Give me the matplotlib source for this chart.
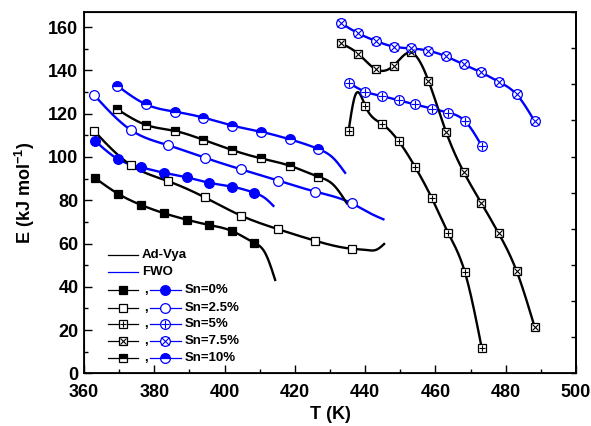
import numpy as np
import matplotlib
matplotlib.use("Agg")
import matplotlib.pyplot as plt
from matplotlib.lines import Line2D

# ---- data (T in K, E in kJ/mol) ----
# marker points, Ad-Vya (black) and FWO (blue)
T_0 = [363.2, 369.8, 376.3, 382.8, 389.3, 395.6, 402.1, 408.4]
E_0_adv = [90.2, 82.9, 77.8, 74.0, 71.0, 68.6, 65.8, 60.4]
E_0_fwo = [107.4, 98.9, 95.2, 92.7, 90.6, 88.1, 86.3, 83.5]

T_25 = [362.9, 373.3, 383.8, 394.3, 404.7, 415.3, 425.8, 436.2]
E_25_adv = [112.0, 96.3, 88.9, 81.4, 72.9, 66.6, 61.3, 57.6]
E_25_fwo = [128.6, 112.5, 105.5, 99.7, 94.3, 89.1, 84.0, 78.6]

T_5 = [435.3, 440.0, 444.7, 449.5, 454.2, 459.0, 463.7, 468.4, 473.2]
E_5_adv = [112.2, 123.7, 115.4, 107.4, 95.5, 80.9, 64.7, 46.7, 11.6]
E_5_fwo = [134.3, 130.2, 128.2, 126.2, 124.3, 122.4, 120.5, 116.6, 105.1]

T_75 = [433.1, 438.1, 443.1, 448.1, 453.0, 458.0, 463.0, 468.0, 473.0, 478.0, 483.1, 488.2]
E_75_adv = [152.5, 147.6, 140.5, 142.2, 148.3, 135.3, 111.7, 93.2, 78.9, 64.7, 47.3, 21.6]
E_75_fwo = [161.9, 157.1, 153.6, 151.0, 150.2, 149.1, 146.5, 142.8, 139.1, 134.8, 128.9, 116.6]

T_10 = [369.5, 377.7, 386.0, 394.0, 402.2, 410.3, 418.5, 426.7]
E_10_adv = [122.0, 114.8, 112.0, 107.9, 103.2, 99.4, 96.0, 90.9]
E_10_fwo = [132.9, 124.3, 120.9, 118.2, 114.5, 111.7, 108.2, 103.7]

# extra curve points without markers (curve continues past last marker)
tail_0_adv = ([411.6, 414.4], [55.5, 43.2])
tail_0_fwo = ([411.6, 413.9], [80.9, 77.4])
tail_25_adv = ([440.5, 443.3, 445.4], [57.0, 57.2, 59.8])
tail_25_fwo = ([441.4, 445.2], [74.0, 71.2])
tail_5_adv = ([437.2], [128.6])
tail_5_fwo = ([], [])
tail_75_adv = ([], [])
tail_75_fwo = ([], [])
tail_10_adv = ([431.0, 434.8], [87.1, 78.6])
tail_10_fwo = ([431.0, 434.3], [99.4, 92.7])

labels = ["Sn=0%", "Sn=2.5%", "Sn=5%", "Sn=7.5%", "Sn=10%"]

plt.rcParams['font.family'] = ['Liberation Sans', 'DejaVu Sans']
plt.rcParams['font.weight'] = 'bold'
plt.rcParams['mathtext.fontset'] = 'custom'
plt.rcParams['mathtext.rm'] = 'Liberation Sans:bold'
plt.rcParams['mathtext.bf'] = 'Liberation Sans:bold'
plt.rcParams['mathtext.default'] = 'bf'


def spline(x, y, n=300):
    """natural cubic spline through (x, y)"""
    x = np.asarray(x, float)
    y = np.asarray(y, float)
    k = len(x)
    h = np.diff(x)
    A = np.zeros((k, k))
    b = np.zeros(k)
    A[0, 0] = A[-1, -1] = 1.0
    for i in range(1, k - 1):
        A[i, i - 1] = h[i - 1]
        A[i, i] = 2 * (h[i - 1] + h[i])
        A[i, i + 1] = h[i]
        b[i] = 6 * ((y[i + 1] - y[i]) / h[i] - (y[i] - y[i - 1]) / h[i - 1])
    M = np.linalg.solve(A, b)
    xs = np.linspace(x[0], x[-1], n)
    j = np.clip(np.searchsorted(x, xs) - 1, 0, k - 2)
    t0 = x[j + 1] - xs
    t1 = xs - x[j]
    hj = h[j]
    ys = (M[j] * t0 ** 3 / (6 * hj) + M[j + 1] * t1 ** 3 / (6 * hj)
          + (y[j] / hj - M[j] * hj / 6) * t0 + (y[j + 1] / hj - M[j + 1] * hj / 6) * t1)
    return xs, ys


def curve(T, E, tail):
    x = np.concatenate([T, tail[0]])
    y = np.concatenate([E, tail[1]])
    o = np.argsort(x)
    return spline(x[o], y[o])


BLUE = '#0000ff'
sq = dict(marker='s', markersize=6, markeredgewidth=0.9)
ci = dict(marker='o', markersize=7, markeredgewidth=0.9)

# per series: (black marker style, blue marker style, overlay marker)
styles = [
    (dict(mfc='black', mec='black'), dict(mfc=BLUE, mec=BLUE), None),
    (dict(mfc='white', mec='black'), dict(mfc='white', mec=BLUE), None),
    (dict(mfc='white', mec='black'), dict(mfc='white', mec=BLUE), '+'),
    (dict(mfc='white', mec='black'), dict(mfc='white', mec=BLUE), 'x'),
    (dict(mfc='black', mec='black', fillstyle='top', markerfacecoloralt='white'),
     dict(mfc=BLUE, mec=BLUE, fillstyle='top', markerfacecoloralt='white'), None),
]

series = [
    (T_0, E_0_adv, E_0_fwo, tail_0_adv, tail_0_fwo),
    (T_25, E_25_adv, E_25_fwo, tail_25_adv, tail_25_fwo),
    (T_5, E_5_adv, E_5_fwo, tail_5_adv, tail_5_fwo),
    (T_75, E_75_adv, E_75_fwo, tail_75_adv, tail_75_fwo),
    (T_10, E_10_adv, E_10_fwo, tail_10_adv, tail_10_fwo),
]

fig = plt.figure(figsize=(5.91, 4.26), dpi=100)
ax = fig.add_axes([0.1421, 0.1235, 0.8325, 0.8483])

for (T, Ea, Ef, ta, tf), (bs, us, ov) in zip(series, styles):
    xs, ys = curve(T, Ea, ta)
    ax.plot(xs, ys, color='black', lw=1.7, zorder=2)
    xs, ys = curve(T, Ef, tf)
    ax.plot(xs, ys, color=BLUE, lw=1.7, zorder=2)
    ax.plot(T, Ea, ls='none', zorder=3, **sq, **bs)
    ax.plot(T, Ef, ls='none', zorder=3, **ci, **us)
    if ov:
        ax.plot(T, Ea, ls='none', marker=ov, ms=5, mew=0.8, color='black', zorder=4)
        ax.plot(T, Ef, ls='none', marker=ov, ms=6, mew=0.8, color=BLUE, zorder=4)

ax.set_xlim(360, 500)
ax.set_ylim(0, 167)
ax.set_xticks(np.arange(360, 501, 20))
ax.set_xticks(np.arange(370, 500, 20), minor=True)
ax.set_yticks(np.arange(0, 161, 20))
ax.set_yticks(np.arange(10, 161, 20), minor=True)
ax.tick_params(which='both', direction='in', width=1.0, labelsize=13, top=False, right=False)
ax.tick_params(which='major', length=5.5, pad=4)
ax.tick_params(axis='x', which='major', pad=7.5)
ax.tick_params(which='minor', length=3)
for s in ax.spines.values():
    s.set_linewidth(1.3)

# right axis: ten unlabeled divisions
ax2 = ax.twinx()
ax2.set_ylim(0, 167)
ax2.set_yticks(np.linspace(0, 167, 11))
ax2.set_yticklabels([])
ax2.tick_params(direction='in', length=3.5, width=1.0)
ax2.spines['right'].set_linewidth(1.3)

ax.set_xlabel('T (K)', fontsize=13, fontweight='bold', labelpad=4)
ax.set_ylabel(r'E (kJ mol$^{-1}$)', fontsize=13, fontweight='bold', labelpad=8)

# legend drawn in axes coordinates
tr = ax.transAxes
fs = 9.5
rows_y = [0.327, 0.281, 0.231, 0.182, 0.138, 0.090, 0.042]
ax.add_line(Line2D([0.049, 0.110], [rows_y[0]] * 2, color='black', lw=0.9, transform=tr))
ax.text(0.118, rows_y[0], 'Ad-Vya', transform=tr, fontsize=fs, va='center')
ax.add_line(Line2D([0.049, 0.110], [rows_y[1]] * 2, color=BLUE, lw=0.9, transform=tr))
ax.text(0.118, rows_y[1], 'FWO', transform=tr, fontsize=fs, va='center')
for y, lab, (bs, us, ov) in zip(rows_y[2:], labels, styles):
    ax.add_line(Line2D([0.049, 0.110], [y] * 2, color='black', lw=0.9, transform=tr))
    ax.add_line(Line2D([0.0795], [y], ls='none', transform=tr, **sq, **bs))
    ax.text(0.122, y, ',', transform=tr, fontsize=fs, va='center')
    ax.add_line(Line2D([0.134, 0.197], [y] * 2, color=BLUE, lw=0.9, transform=tr))
    ax.add_line(Line2D([0.1655], [y], ls='none', transform=tr, **ci, **us))
    if ov:
        ax.add_line(Line2D([0.0795], [y], ls='none', marker=ov, ms=5, mew=0.8,
                           color='black', transform=tr))
        ax.add_line(Line2D([0.1655], [y], ls='none', marker=ov, ms=6, mew=0.8,
                           color=BLUE, transform=tr))
    ax.text(0.205, y, lab, transform=tr, fontsize=fs, va='center')

fig.savefig('out.png', dpi=100)
